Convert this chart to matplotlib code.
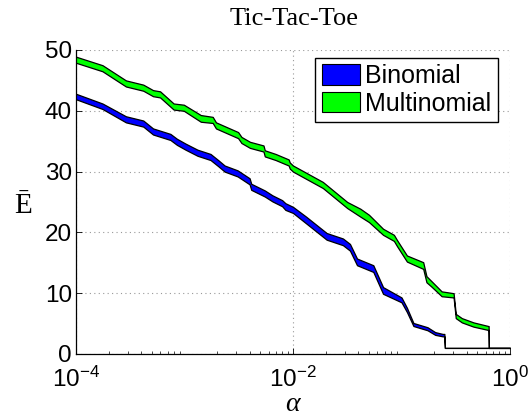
import numpy as np
import matplotlib
matplotlib.use('Agg')
import matplotlib.pyplot as plt
from matplotlib.patches import Patch

# log10(alpha) sample points and band edges
bin_logx = [-4.0, -3.756, -3.54, -3.38, -3.29, -3.13, -3.07, -2.99, -2.88, -2.76,
            -2.69, -2.63, -2.51, -2.40, -2.385, -2.26, -2.19, -2.10, -2.07, -2.0,
            -1.88, -1.69, -1.54, -1.475, -1.41, -1.26, -1.17, -1.0, -0.95, -0.89,
            -0.76, -0.69, -0.62, -0.605, -0.60, 0.0]
bin_lo = [41.9, 40.3, 38.1, 37.4, 36.1, 35.2, 34.4, 33.6, 32.6, 31.9,
          30.9, 30.0, 29.2, 27.9, 27.0, 25.9, 25.1, 24.3, 23.7, 23.2,
          21.5, 18.8, 17.9, 17.0, 14.6, 13.5, 9.9, 8.5, 6.9, 4.6,
          3.9, 3.15, 2.9, 2.9, 1.0, 1.0]
bin_hi = [42.8, 41.2, 39.1, 38.4, 37.1, 36.2, 35.4, 34.6, 33.6, 32.9,
          31.9, 31.0, 30.2, 28.9, 28.0, 26.9, 26.1, 25.3, 24.8, 24.2,
          22.6, 19.9, 19.0, 18.1, 15.7, 14.6, 11.0, 9.3, 7.6, 5.1,
          4.4, 3.6, 3.3, 3.3, 1.0, 1.0]

mul_logx = [-4.0, -3.756, -3.54, -3.38, -3.29, -3.225, -3.10, -3.006, -2.85, -2.74,
            -2.71, -2.506, -2.475, -2.397, -2.272, -2.26, -2.16, -2.04, -2.03, -2.0,
            -1.725, -1.50, -1.38, -1.30, -1.17, -1.07, -1.04, -0.95, -0.80, -0.77,
            -0.725, -0.63, -0.52, -0.50, -0.444, -0.337, -0.20, -0.197, -0.195, 0.0]
mul_lo = [47.9, 46.5, 44.0, 43.3, 42.4, 42.2, 40.2, 40.0, 38.2, 38.0,
          37.1, 35.5, 34.7, 33.9, 33.3, 32.5, 31.9, 31.0, 30.5, 30.0,
          27.3, 24.0, 22.6, 21.7, 19.6, 18.6, 17.7, 15.2, 14.0, 11.8,
          11.1, 9.5, 9.3, 5.9, 5.2, 4.5, 3.95, 3.95, 1.0, 1.0]
mul_hi = [48.9, 47.5, 45.0, 44.3, 43.4, 43.2, 41.2, 41.0, 39.3, 39.0,
          38.1, 36.5, 35.7, 34.9, 34.3, 33.5, 32.9, 32.0, 31.5, 31.0,
          28.3, 25.0, 23.9, 22.9, 20.6, 19.6, 18.7, 16.2, 15.1, 12.8,
          12.0, 10.3, 10.0, 6.6, 5.9, 5.2, 4.6, 4.6, 1.0, 1.0]

labels = ['Binomial', 'Multinomial']
colors = ['#0000ff', '#00ff00']

plt.rcParams['mathtext.fontset'] = 'custom'
plt.rcParams['mathtext.rm'] = 'Liberation Sans'
plt.rcParams['mathtext.it'] = 'Liberation Sans:italic'
plt.rcParams['font.family'] = ['Liberation Sans', 'DejaVu Sans']

fig = plt.figure(figsize=(5.31, 4.18), dpi=100)
ax = fig.add_axes([76 / 531, 1 - 354 / 418, 434 / 531, 304 / 418])

for lx, lo, hi, c in [(bin_logx, bin_lo, bin_hi, colors[0]),
                      (mul_logx, mul_lo, mul_hi, colors[1])]:
    x = 10.0 ** np.array(lx)
    ax.fill_between(x, lo, hi, facecolor=c, edgecolor='black', linewidth=0.9, zorder=3)

ax.set_xscale('log')
ax.set_xlim(1e-4, 1)
ax.set_ylim(0, 50)
ax.set_xticks([1e-4, 1e-2, 1])
ax.set_xticklabels([r'$\mathregular{10^{-4}}$', r'$\mathregular{10^{-2}}$', r'$\mathregular{10^{0}}$'])
ax.set_yticks([0, 10, 20, 30, 40, 50])
ax.tick_params(axis='both', which='major', direction='in', labelsize=17.5, length=4, width=0.6)
ax.tick_params(axis='x', which='minor', direction='in', length=2.5, width=0.5)
ax.tick_params(axis='x', pad=9)
ax.tick_params(axis='y', pad=3)
ax.grid(True, which='major', linestyle=(0, (1, 3)), color='#999999', linewidth=0.8)
ax.spines['top'].set_visible(False)
ax.spines['right'].set_visible(False)
for s in ['left', 'bottom']:
    ax.spines[s].set_linewidth(0.9)

handles = [Patch(facecolor=c, edgecolor='black', linewidth=0.8) for c in colors]
leg = ax.legend(handles, labels, loc='upper right', bbox_to_anchor=(0.972, 0.975),
                borderaxespad=0, fontsize=18, fancybox=False, framealpha=1,
                edgecolor='black', handlelength=1.55, handleheight=0.9,
                handletextpad=0.2, borderpad=0.25, labelspacing=0.15)
leg.get_frame().set_linewidth(1.0)
leg.set_zorder(5)

fig.text(294 / 531, 1 - 19 / 418, 'Tic-Tac-Toe', ha='center', va='center',
         fontsize=19, family='Liberation Serif')
fig.text(23 / 531, 1 - 213 / 418, 'Ē', ha='center', va='baseline',
         fontsize=21, family='Liberation Serif')
fig.text(292 / 531, 1 - 411 / 418, 'α', ha='center', va='baseline',
         fontsize=20, family='Liberation Serif', style='italic')

fig.savefig('out.png', dpi=100)
